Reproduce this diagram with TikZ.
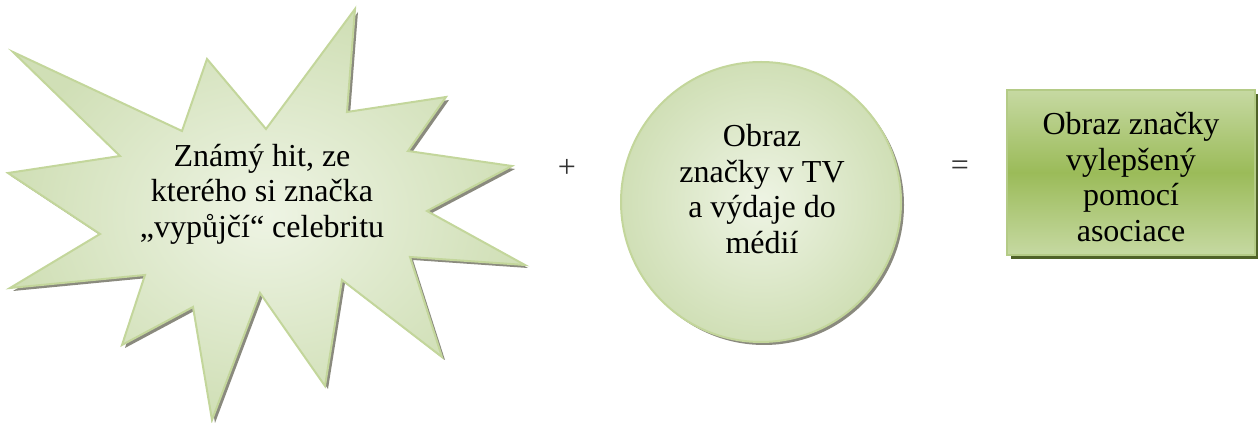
\documentclass[tikz,border=0pt]{standalone}
\usepackage{fontspec}
\setmainfont{Liberation Serif}
\definecolor{burstedge}{HTML}{C3D69B}
\definecolor{burstlight}{HTML}{EEF4E4}
\definecolor{burstdark}{HTML}{D0DFB6}
\definecolor{shadowgray}{HTML}{8A8A7E}
\definecolor{boxdark}{HTML}{9BBB59}
\definecolor{boxlight}{HTML}{C6D9A2}
\definecolor{boxedge}{HTML}{B4CB86}
\definecolor{boxshadow}{HTML}{4F6228}
\begin{document}
\begin{tikzpicture}[x=0.75pt,y=-0.75pt,
  lbl/.style={font=\fontsize{24}{26.6}\selectfont, align=center, text=black, inner sep=0pt},
  sign/.style={font=\fontsize{24}{26.6}\selectfont, text=black!80, inner sep=0pt},
  burstfill/.style={draw=burstedge, line width=1.5pt, inner color=burstlight, outer color=burstdark},
  softshadow/.style={fill=shadowgray}
]
\useasboundingbox (0,0) rectangle (1258,423);

% starburst: drop shadow, then the shaded burst on top
\fill[softshadow, shift={(3,3)}]
  (355,9) -- (347,112) -- (446,97) -- (408,151) -- (512,166) -- (427,211)
  -- (525,265) -- (410,257) -- (442,357) -- (342,280) -- (325,386) -- (260,293)
  -- (212,420) -- (193,307) -- (122,345) -- (145,275) -- (10,288) -- (100,234)
  -- (8,173) -- (120,156) -- (13,52) -- (182,131) -- (207,59) -- (266,129) -- cycle;
\path[burstfill]
  (355,9) -- (347,112) -- (446,97) -- (408,151) -- (512,166) -- (427,211)
  -- (525,265) -- (410,257) -- (442,357) -- (342,280) -- (325,386) -- (260,293)
  -- (212,420) -- (193,307) -- (122,345) -- (145,275) -- (10,288) -- (100,234)
  -- (8,173) -- (120,156) -- (13,52) -- (182,131) -- (207,59) -- (266,129) -- cycle;
\node[lbl] (hit) at (262,194) {Známý hit, ze\\kterého si značka\\„vypůjčí“ celebritu};

% plus sign
\node[sign] (plus) at (567,168) {+};

% circle with its shadow
\node[circle, softshadow, minimum size=210pt, inner sep=0pt] (mediashadow) at (764,205) {};
\node[circle, burstfill, minimum size=210pt, inner sep=0pt] (media) at (761,202) {};
\node[lbl] (mediatext) at (762,189) {Obraz\\značky v TV\\a výdaje do\\médií};

% equals sign
\node[sign] (equals) at (960,168) {=};

% result box with its shadow
\node[fill=boxshadow, minimum width=186pt, minimum height=123.75pt, inner sep=0pt] (resultshadow) at (1135,176.5) {};
\node[draw=boxedge, line width=1.5pt, top color=boxlight, bottom color=boxlight, middle color=boxdark,
      minimum width=186pt, minimum height=123.75pt, inner sep=0pt] (result) at (1131,172.5) {};
\node[lbl] (resulttext) at (1131,177) {Obraz značky\\vylepšený\\pomocí\\asociace};
\end{tikzpicture}
\end{document}
